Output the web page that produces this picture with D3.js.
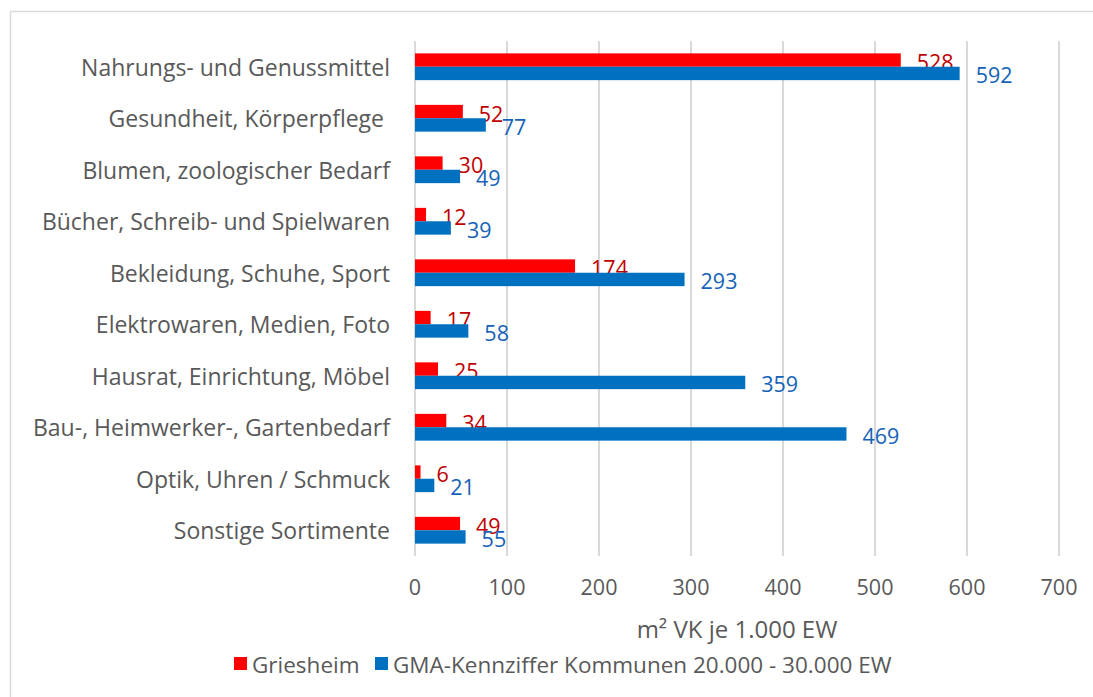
<!DOCTYPE html>
<html>
<head>
<meta charset="utf-8">
<script src="https://cdn.jsdelivr.net/npm/d3@7"></script>
<style>
  body { margin: 0; background: #fff; }
  text { font-family: "Open Sans", sans-serif; }
</style>
</head>
<body>
<div id="chart"></div>
<script>
const width = 1093;
const height = 697;
const margin = { top: 41, right: 34, bottom: 141, left: 415 };

// Data
const categories = [
    "Nahrungs- und Genussmittel",
    "Gesundheit, Körperpflege ",
    "Blumen, zoologischer Bedarf",
    "Bücher, Schreib- und Spielwaren",
    "Bekleidung, Schuhe, Sport",
    "Elektrowaren, Medien, Foto",
    "Hausrat, Einrichtung, Möbel",
    "Bau-, Heimwerker-, Gartenbedarf",
    "Optik, Uhren / Schmuck",
    "Sonstige Sortimente"
];
const griesheim = [528, 52, 30, 12, 174, 17, 25, 34, 6, 49];
const gma = [592, 77, 49, 39, 293, 58, 359, 469, 21, 55];
const xTicks = [0, 100, 200, 300, 400, 500, 600, 700];
const seriesNames = ["Griesheim", "GMA-Kennziffer Kommunen 20.000 - 30.000 EW"];

const barColors = ["#FF0000", "#0070C0"];
const labelColors = ["#C00000", "#1462B8"];

const svg = d3.select("#chart")
    .append("svg")
    .attr("width", width)
    .attr("height", height);

// chart border
svg.append("rect")
    .attr("x", 10.5).attr("y", 11.5)
    .attr("width", width).attr("height", height)
    .attr("fill", "none")
    .attr("stroke", "#D9D9D9")
    .attr("stroke-width", 1.5);

const x = d3.scaleLinear()
    .domain([0, 700])
    .range([margin.left, width - margin.right]);

const y = d3.scaleBand()
    .domain(categories)
    .range([margin.top, height - margin.bottom])
    .paddingInner(0.48)
    .paddingOuter(0.24);

const inner = d3.scaleBand()
    .domain([0, 1])
    .range([0, y.bandwidth()]);

// gridlines
svg.append("g")
    .selectAll("line")
    .data(xTicks)
    .join("line")
    .attr("x1", d => x(d)).attr("x2", d => x(d))
    .attr("y1", margin.top).attr("y2", height - margin.bottom)
    .attr("stroke", "#D9D9D9")
    .attr("stroke-width", 2);

// tick labels
svg.append("g")
    .selectAll("text")
    .data(xTicks)
    .join("text")
    .attr("x", d => x(d))
    .attr("y", 586)
    .attr("text-anchor", "middle")
    .attr("dominant-baseline", "central")
    .attr("font-size", 21.5)
    .attr("fill", "#595959")
    .text(d => d);

// category labels
svg.append("g")
    .selectAll("text")
    .data(categories)
    .join("text")
    .attr("x", margin.left - 25)
    .attr("y", d => y(d) + y.bandwidth() / 2)
    .attr("text-anchor", "end")
    .attr("dominant-baseline", "central")
    .attr("font-size", 23)
    .attr("fill", "#595959")
    .style("white-space", "pre")
    .text(d => d);

// bars
const series = [griesheim, gma];
series.forEach((vals, s) => {
    const g = svg.append("g");
    g.selectAll("rect")
        .data(vals)
        .join("rect")
        .attr("x", x(0))
        .attr("y", (d, i) => y(categories[i]) + inner(s))
        .attr("width", d => x(d) - x(0))
        .attr("height", inner.bandwidth())
        .attr("fill", barColors[s]);

    g.selectAll("text")
        .data(vals)
        .join("text")
        .attr("x", d => x(d) + 16)
        .attr("y", (d, i) => y(categories[i]) + inner(s) + inner.bandwidth() / 2 + 1.5)
        .attr("dominant-baseline", "central")
        .attr("font-size", 21.5)
        .attr("fill", labelColors[s])
        .text(d => d);
});

// axis title
svg.append("text")
    .attr("x", (x(0) + x(700)) / 2)
    .attr("y", 628)
    .attr("text-anchor", "middle")
    .attr("dominant-baseline", "central")
    .attr("font-size", 24)
    .attr("fill", "#595959")
    .text("m² VK je 1.000 EW");

// legend
const legendX = [234, 375];
const legend = svg.append("g");
seriesNames.forEach((name, s) => {
    legend.append("rect")
        .attr("x", legendX[s]).attr("y", 657)
        .attr("width", 13).attr("height", 13)
        .attr("fill", barColors[s]);
    legend.append("text")
        .attr("x", legendX[s] + 18)
        .attr("y", 664)
        .attr("dominant-baseline", "central")
        .attr("font-size", 22.5)
        .attr("fill", "#595959")
        .text(name);
});
</script>
</body>
</html>
